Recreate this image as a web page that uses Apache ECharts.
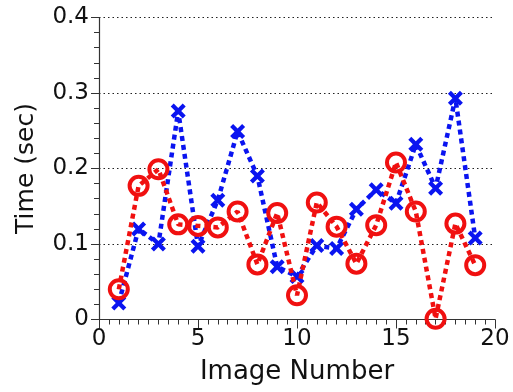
<!DOCTYPE html>
<html>
<head>
<meta charset="utf-8">
<script src="https://cdn.jsdelivr.net/npm/echarts@6/dist/echarts.min.js"></script>
<style>
  html, body { margin: 0; padding: 0; background: #fff; }
  #chart { width: 513px; height: 392px; }
</style>
</head>
<body>
<div id="chart"></div>
<script>
// Image indices and per-image processing times
const imageNumbers = [1, 2, 3, 4, 5, 6, 7, 8, 9, 10, 11, 12, 13, 14, 15, 16, 17, 18, 19];
const blueTimes = [0.022, 0.120, 0.100, 0.276, 0.097, 0.158, 0.249, 0.190, 0.070, 0.057,
                   0.098, 0.094, 0.146, 0.172, 0.154, 0.232, 0.174, 0.293, 0.108];
const redTimes  = [0.040, 0.177, 0.199, 0.126, 0.124, 0.122, 0.143, 0.073, 0.141, 0.032,
                   0.155, 0.123, 0.074, 0.125, 0.208, 0.143, 0.001, 0.127, 0.072];
const xTicks = [0, 5, 10, 15, 20];
const yTicks = [0, 0.1, 0.2, 0.3, 0.4];

const FONT = 'DejaVu Sans';
const crossPath = 'path://M0,2 L2,0 L5,3 L8,0 L10,2 L7,5 L10,8 L8,10 L5,7 L2,10 L0,8 L3,5 Z';

const pair = (xs, ys) => xs.map((x, i) => [x, ys[i]]);

const chart = echarts.init(document.getElementById('chart'), null, { renderer: 'canvas' });
chart.setOption({
  animation: false,
  backgroundColor: '#fff',
  grid: { left: 99, right: 18, top: 17.5, bottom: 72.5 },
  xAxis: {
    type: 'value',
    min: xTicks[0], max: xTicks[xTicks.length - 1], interval: xTicks[1] - xTicks[0],
    name: 'Image Number', nameLocation: 'middle', nameGap: 40,
    nameTextStyle: { fontFamily: FONT, fontSize: 26, color: '#111' },
    axisLine: { show: true, lineStyle: { color: '#333', width: 1.2 } },
    axisTick: { show: true, length: 9, lineStyle: { color: '#333' } },
    minorTick: { show: true, splitNumber: 10, length: 5, lineStyle: { color: '#333' } },
    axisLabel: { fontFamily: FONT, fontSize: 23, color: '#111', margin: 8 },
    splitLine: { show: false }
  },
  yAxis: {
    type: 'value',
    min: yTicks[0], max: yTicks[yTicks.length - 1], interval: 0.1,
    name: 'Time (sec)', nameLocation: 'middle', nameGap: 60, nameRotate: 90,
    nameTextStyle: { fontFamily: FONT, fontSize: 25, color: '#111' },
    axisLine: { show: true, lineStyle: { color: '#333', width: 1.2 } },
    axisTick: { show: true, length: 8, lineStyle: { color: '#333' } },
    minorTick: { show: true, splitNumber: 5, length: 5, lineStyle: { color: '#333' } },
    axisLabel: { fontFamily: FONT, fontSize: 23, color: '#111', margin: 10,
                 formatter: v => (Math.round(v * 10) / 10).toString() },
    splitLine: { show: true, lineStyle: { color: '#222', type: [1.5, 3], width: 1 } }
  },
  series: [
    {
      name: 'blue', type: 'line', z: 2,
      data: pair(imageNumbers, blueTimes),
      symbol: crossPath, symbolSize: 15,
      itemStyle: { color: '#0a14f0' },
      lineStyle: { color: '#0a14f0', width: 4.5, type: [5, 4] }
    },
    {
      name: 'red', type: 'line', z: 3,
      data: pair(imageNumbers, redTimes),
      symbol: 'circle', symbolSize: 18,
      itemStyle: { color: 'rgba(255,255,255,0)', borderColor: '#f01010', borderWidth: 4 },
      lineStyle: { color: '#f01010', width: 4.5, type: [5, 4] }
    }
  ]
});
</script>
</body>
</html>
